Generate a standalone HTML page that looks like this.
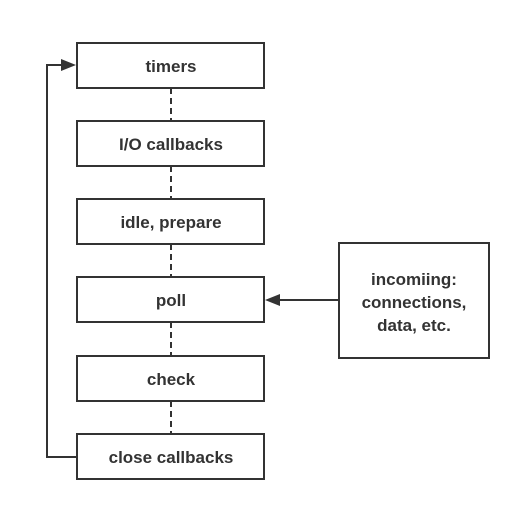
<!DOCTYPE html>
<html><head><style>body{margin:0;background:#fff}</style></head><body>
<svg width="521" height="505" xmlns="http://www.w3.org/2000/svg" font-family="Liberation Sans, sans-serif" font-weight="bold" font-size="17" fill="#333">
<rect width="521" height="505" fill="#fff"/>
<g fill="none" stroke="#333" stroke-width="2">
<rect x="77" y="43" width="187" height="45"/>
<rect x="77" y="121" width="187" height="45"/>
<rect x="77" y="199" width="187" height="45"/>
<rect x="77" y="277" width="187" height="45"/>
<rect x="77" y="356" width="187" height="45"/>
<rect x="77" y="434" width="187" height="45"/>
<rect x="339" y="243" width="150" height="115"/>
<g stroke-dasharray="6,4">
<line x1="171" y1="88" x2="171" y2="121"/>
<line x1="171" y1="166" x2="171" y2="199"/>
<line x1="171" y1="244" x2="171" y2="277"/>
<line x1="171" y1="322" x2="171" y2="356"/>
<line x1="171" y1="401" x2="171" y2="434"/>
</g>
<polyline points="77,457 47,457 47,65 62,65"/>
<line x1="339" y1="300" x2="280" y2="300"/>
</g>
<polygon points="76,65 61,59 61,71" fill="#333"/>
<polygon points="265,300 280,294 280,306" fill="#333"/>
<g text-anchor="middle">
<text x="171" y="72">timers</text>
<text x="171" y="150">I/O callbacks</text>
<text x="171" y="228">idle, prepare</text>
<text x="171" y="306">poll</text>
<text x="171" y="385">check</text>
<text x="171" y="463">close callbacks</text>
<text x="414" y="285">incomiing:</text>
<text x="414" y="308">connections,</text>
<text x="414" y="331">data, etc.</text>
</g>
</svg>
</body></html>
